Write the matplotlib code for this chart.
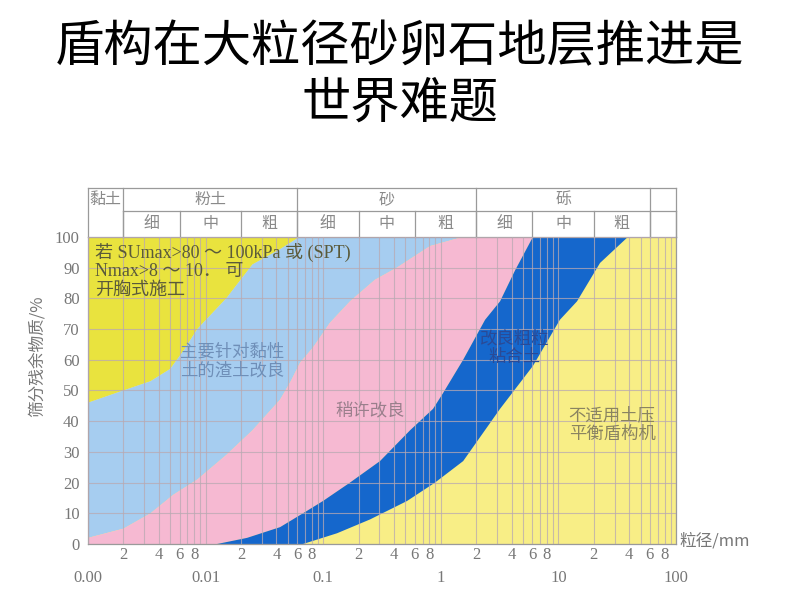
import numpy as np
import matplotlib.pyplot as plt
import matplotlib.transforms as mtransforms
from matplotlib.ticker import FixedLocator, FuncFormatter

plt.rcParams['font.family'] = ['Noto Sans CJK SC', 'DejaVu Sans']

# boundary curves: grain size (mm) vs. retained (%)
a_x = [0.001, 0.002, 0.0034, 0.005, 0.0065, 0.0085, 0.015, 0.025, 0.043, 0.063]
a_y = [46, 50, 53, 57, 63, 70, 80, 91, 96, 100]
b_x = [0.001, 0.002, 0.0034, 0.0053, 0.0085, 0.015, 0.025, 0.043, 0.053, 0.0635, 0.082, 0.114, 0.169, 0.275, 0.424, 0.81, 1.55]
b_y = [2, 5, 10, 16, 21, 29, 37, 47, 53, 59, 64, 72, 79, 86, 90, 97, 100]
c_x = [0.0125, 0.0225, 0.043, 0.0673, 0.0995, 0.169, 0.304, 0.547, 0.859, 1.04, 1.55, 2.38, 3.19, 4.27, 6.08]
c_y = [0, 2, 5.5, 10, 14, 20, 27, 37, 44, 49, 60, 73, 79, 89, 100]
d_x = [0.0673, 0.131, 0.25, 0.516, 0.893, 1.55, 3.19, 6.08, 10.3, 14.4, 22.6, 39.1]
d_y = [0, 3.5, 8, 14, 20, 27, 44, 58, 73, 79, 91.5, 100]

# soil classification table above the chart
main_bounds = [0.001, 0.002, 0.06, 2, 60, 100]
main_names = ['黏土', '粉土', '砂', '砾', '']
sub_bounds = [0.002, 0.006, 0.02, 0.06, 0.2, 0.6, 2, 6, 20, 60, 100]
sub_names = ['细', '中', '粗', '细', '中', '粗', '细', '中', '粗', '']

decade_labels = ['0.00', '0.01', '0.1', '1', '10', '100']
decades = [0.001, 0.01, 0.1, 1, 10, 100]
y_ticks = list(range(0, 101, 10))

fig = plt.figure(figsize=(8, 6), dpi=100)
ax = fig.add_axes([0.11, 0.0933, 0.735, 0.512])

ax.set_xscale('log')
ax.set_xlim(0.001, 100)
ax.set_ylim(0, 100)
ax.set_facecolor('#f8ee86')

# colour bands
ax.fill(a_x + [0.001], a_y + [100], color='#e9e33e', lw=0, zorder=1)
ax.fill(a_x + b_x[::-1], a_y + b_y[::-1], color='#a6cdf0', lw=0, zorder=1)
ax.fill(b_x + c_x[::-1] + [0.001], b_y + c_y[::-1] + [0], color='#f6b9d2', lw=0, zorder=1)
ax.fill(c_x + d_x[::-1], c_y + d_y[::-1], color='#1567cc', lw=0, zorder=1)


def mantissa(v):
    return int(round(v / 10 ** np.floor(np.log10(v) + 1e-9)))


# ticks / grid
ax.xaxis.set_major_locator(FixedLocator(decades))
ax.xaxis.set_major_formatter(FuncFormatter(lambda v, p: decade_labels[decades.index(v)] if v in decades else ''))
minor = [m * d for d in decades[:-1] for m in range(2, 10)]
ax.xaxis.set_minor_locator(FixedLocator(minor))
ax.xaxis.set_minor_formatter(FuncFormatter(lambda v, p: str(mantissa(v)) if mantissa(v) in (2, 4, 6, 8) else ''))
ax.set_yticks(y_ticks)
ax.tick_params(axis='both', which='both', length=0, colors='#777777', labelsize=12)
ax.tick_params(axis='x', which='major', pad=19)
ax.tick_params(axis='x', which='minor', pad=2)
ax.tick_params(axis='y', pad=6)
for lab in ax.get_xticklabels(which='both') + ax.get_yticklabels():
    lab.set_family('Liberation Serif')
ax.grid(True, which='both', color='#b9a9b2', lw=0.8, alpha=0.75, zorder=2)
ax.set_axisbelow(False)
for s in ax.spines.values():
    s.set_color('#9a9a9a')
    s.set_linewidth(0.9)

ax.set_ylabel('筛分残余物质/%', color='#777777', fontsize=12)
ax.yaxis.set_label_coords(-0.072, 0.61)
ax.text(1.005, 0.01, '粒径/mm', transform=ax.transAxes, ha='left', va='center',
        color='#777777', fontsize=12)

# region notes
note_font = ['Liberation Serif', 'Noto Sans CJK SC']
ax.text(0.00115, 98, '若 SUmax>80 ～ 100kPa 或 (SPT)\nNmax>8 ～ 10． 可\n开胸式施工',
        ha='left', va='top', fontsize=13, color='#5a5a3a', family=note_font, linespacing=1.1, zorder=3)
ax.text(0.0168, 59.5, '主要针对黏性\n土的渣土改良', ha='center', va='center', fontsize=12.5,
        color='#6f8fb8', linespacing=1.05, zorder=3)
ax.text(0.25, 43.6, '稍许改良', ha='center', va='center', fontsize=12.5, color='#9a7f8c', zorder=3)
ax.text(4.27, 63.8, '改良粗粒\n粘合土', ha='center', va='center', fontsize=12.5, color='#2a4a96',
        linespacing=1.05, zorder=3)
ax.text(28.6, 38.8, '不适用土压\n平衡盾构机', ha='center', va='center', fontsize=12.5, color='#8a8460',
        linespacing=1.05, zorder=3)

# table above the chart
tr = mtransforms.blended_transform_factory(ax.transData, ax.transAxes)
row_top, row_mid, row_bot = 1.16, 1.085, 1.0
tbl = dict(color='#9a9a9a', lw=0.9, transform=tr, clip_on=False)
ax.plot([0.001, 100], [row_top, row_top], **tbl)
ax.plot([0.002, 100], [row_mid, row_mid], **tbl)
for xb in main_bounds:
    ax.plot([xb, xb], [row_bot, row_top], **tbl)
for xb in sub_bounds:
    ax.plot([xb, xb], [row_bot, row_mid], **tbl)
for i, name in enumerate(main_names):
    xc = np.sqrt(main_bounds[i] * main_bounds[i + 1])
    ax.text(xc, (row_top + row_mid) / 2, name, transform=tr, ha='center', va='center',
            fontsize=11.5, color='#8a8a8a')
for i, name in enumerate(sub_names):
    xc = np.sqrt(sub_bounds[i] * sub_bounds[i + 1])
    ax.text(xc, (row_mid + row_bot) / 2, name, transform=tr, ha='center', va='center',
            fontsize=11.5, color='#8a8a8a')

# slide title
fig.text(0.5, 0.922, '盾构在大粒径砂卵石地层推进是', ha='center', va='center', fontsize=35.5, color='black')
fig.text(0.5, 0.828, '世界难题', ha='center', va='center', fontsize=35.5, color='black')

fig.savefig('out.png', dpi=100)
